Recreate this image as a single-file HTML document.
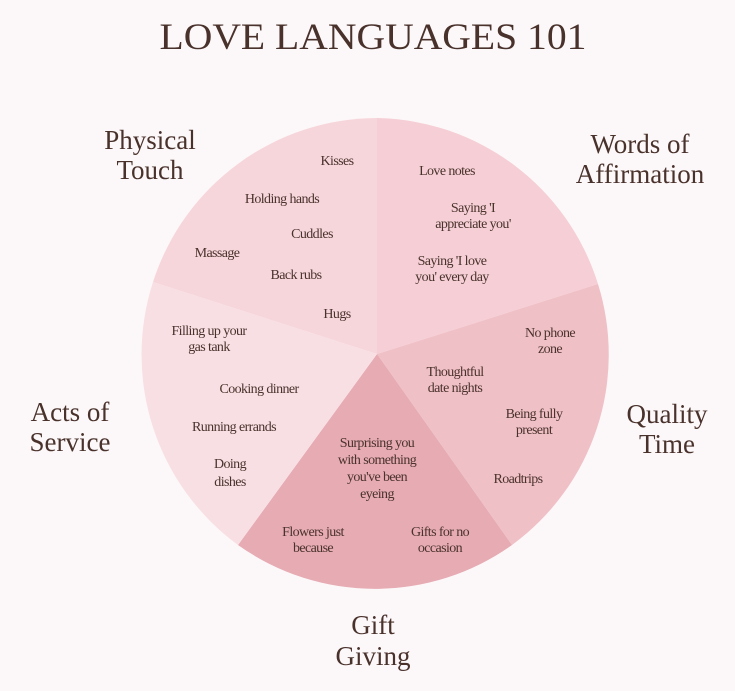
<!DOCTYPE html>
<html><head><meta charset="utf-8"><style>
html,body{margin:0;padding:0;background:#fcf8f9;}
svg{display:block}
text{font-family:"Liberation Serif",serif;fill:#4a322c;}
.s{font-size:14px;letter-spacing:-0.6px;text-anchor:middle}
.b{font-size:27px;text-anchor:middle;fill:#3a2a26}
</style></head><body>
<svg width="735" height="691" viewBox="0 0 735 691" xmlns="http://www.w3.org/2000/svg">
<rect width="735" height="691" fill="#fcf8f9"/>
<text x="373" y="49" font-size="37" text-anchor="middle" textLength="427" lengthAdjust="spacingAndGlyphs" fill="#4a3a2e">LOVE LANGUAGES 101</text>
<!-- center 377,354 r 236 -->
<path d="M377,354 L377,118 A236,236 0 0 1 598,284 Z" fill="#f5cfd5"/>
<path d="M377,354 L598,284 A236,236 0 0 1 512,545 Z" fill="#f0c0c7"/>
<path d="M377,354 L512,545 A236,236 0 0 1 238,545 Z" fill="#e6abb3"/>
<path d="M377,354 L238,545 A236,236 0 0 1 153,282 Z" fill="#f8dfe3"/>
<path d="M377,354 L153,282 A236,236 0 0 1 377,118 Z" fill="#f6d6db"/>
<g class="s">
<text x="337" y="165">Kisses</text>
<text x="282" y="203">Holding hands</text>
<text x="312" y="238">Cuddles</text>
<text x="217" y="257">Massage</text>
<text x="296" y="279">Back rubs</text>
<text x="337" y="318">Hugs</text>
<text x="447" y="175">Love notes</text>
<text x="473" y="212">Saying 'I</text>
<text x="473" y="228">appreciate you'</text>
<text x="452" y="265">Saying 'I love</text>
<text x="452" y="281">you' every day</text>
<text x="550" y="337">No phone</text>
<text x="550" y="353">zone</text>
<text x="455" y="376">Thoughtful</text>
<text x="455" y="392">date nights</text>
<text x="534" y="418">Being fully</text>
<text x="534" y="434">present</text>
<text x="518" y="483">Roadtrips</text>
<text x="209" y="335">Filling up your</text>
<text x="209" y="351">gas tank</text>
<text x="259" y="393">Cooking dinner</text>
<text x="234" y="431">Running errands</text>
<text x="230" y="468">Doing</text>
<text x="230" y="486">dishes</text>
<text x="377" y="447">Surprising you</text>
<text x="377" y="464">with something</text>
<text x="377" y="481">you've been</text>
<text x="377" y="498">eyeing</text>
<text x="313" y="536">Flowers just</text>
<text x="313" y="552">because</text>
<text x="440" y="536">Gifts for no</text>
<text x="440" y="552">occasion</text>
</g>
<g class="b">
<text x="150" y="149">Physical</text>
<text x="150" y="179">Touch</text>
<text x="640" y="153">Words of</text>
<text x="640" y="183">Affirmation</text>
<text x="70" y="421">Acts of</text>
<text x="70" y="451">Service</text>
<text x="667" y="423">Quality</text>
<text x="667" y="453">Time</text>
<text x="373" y="634">Gift</text>
<text x="373" y="665">Giving</text>
</g>
</svg>
</body></html>
